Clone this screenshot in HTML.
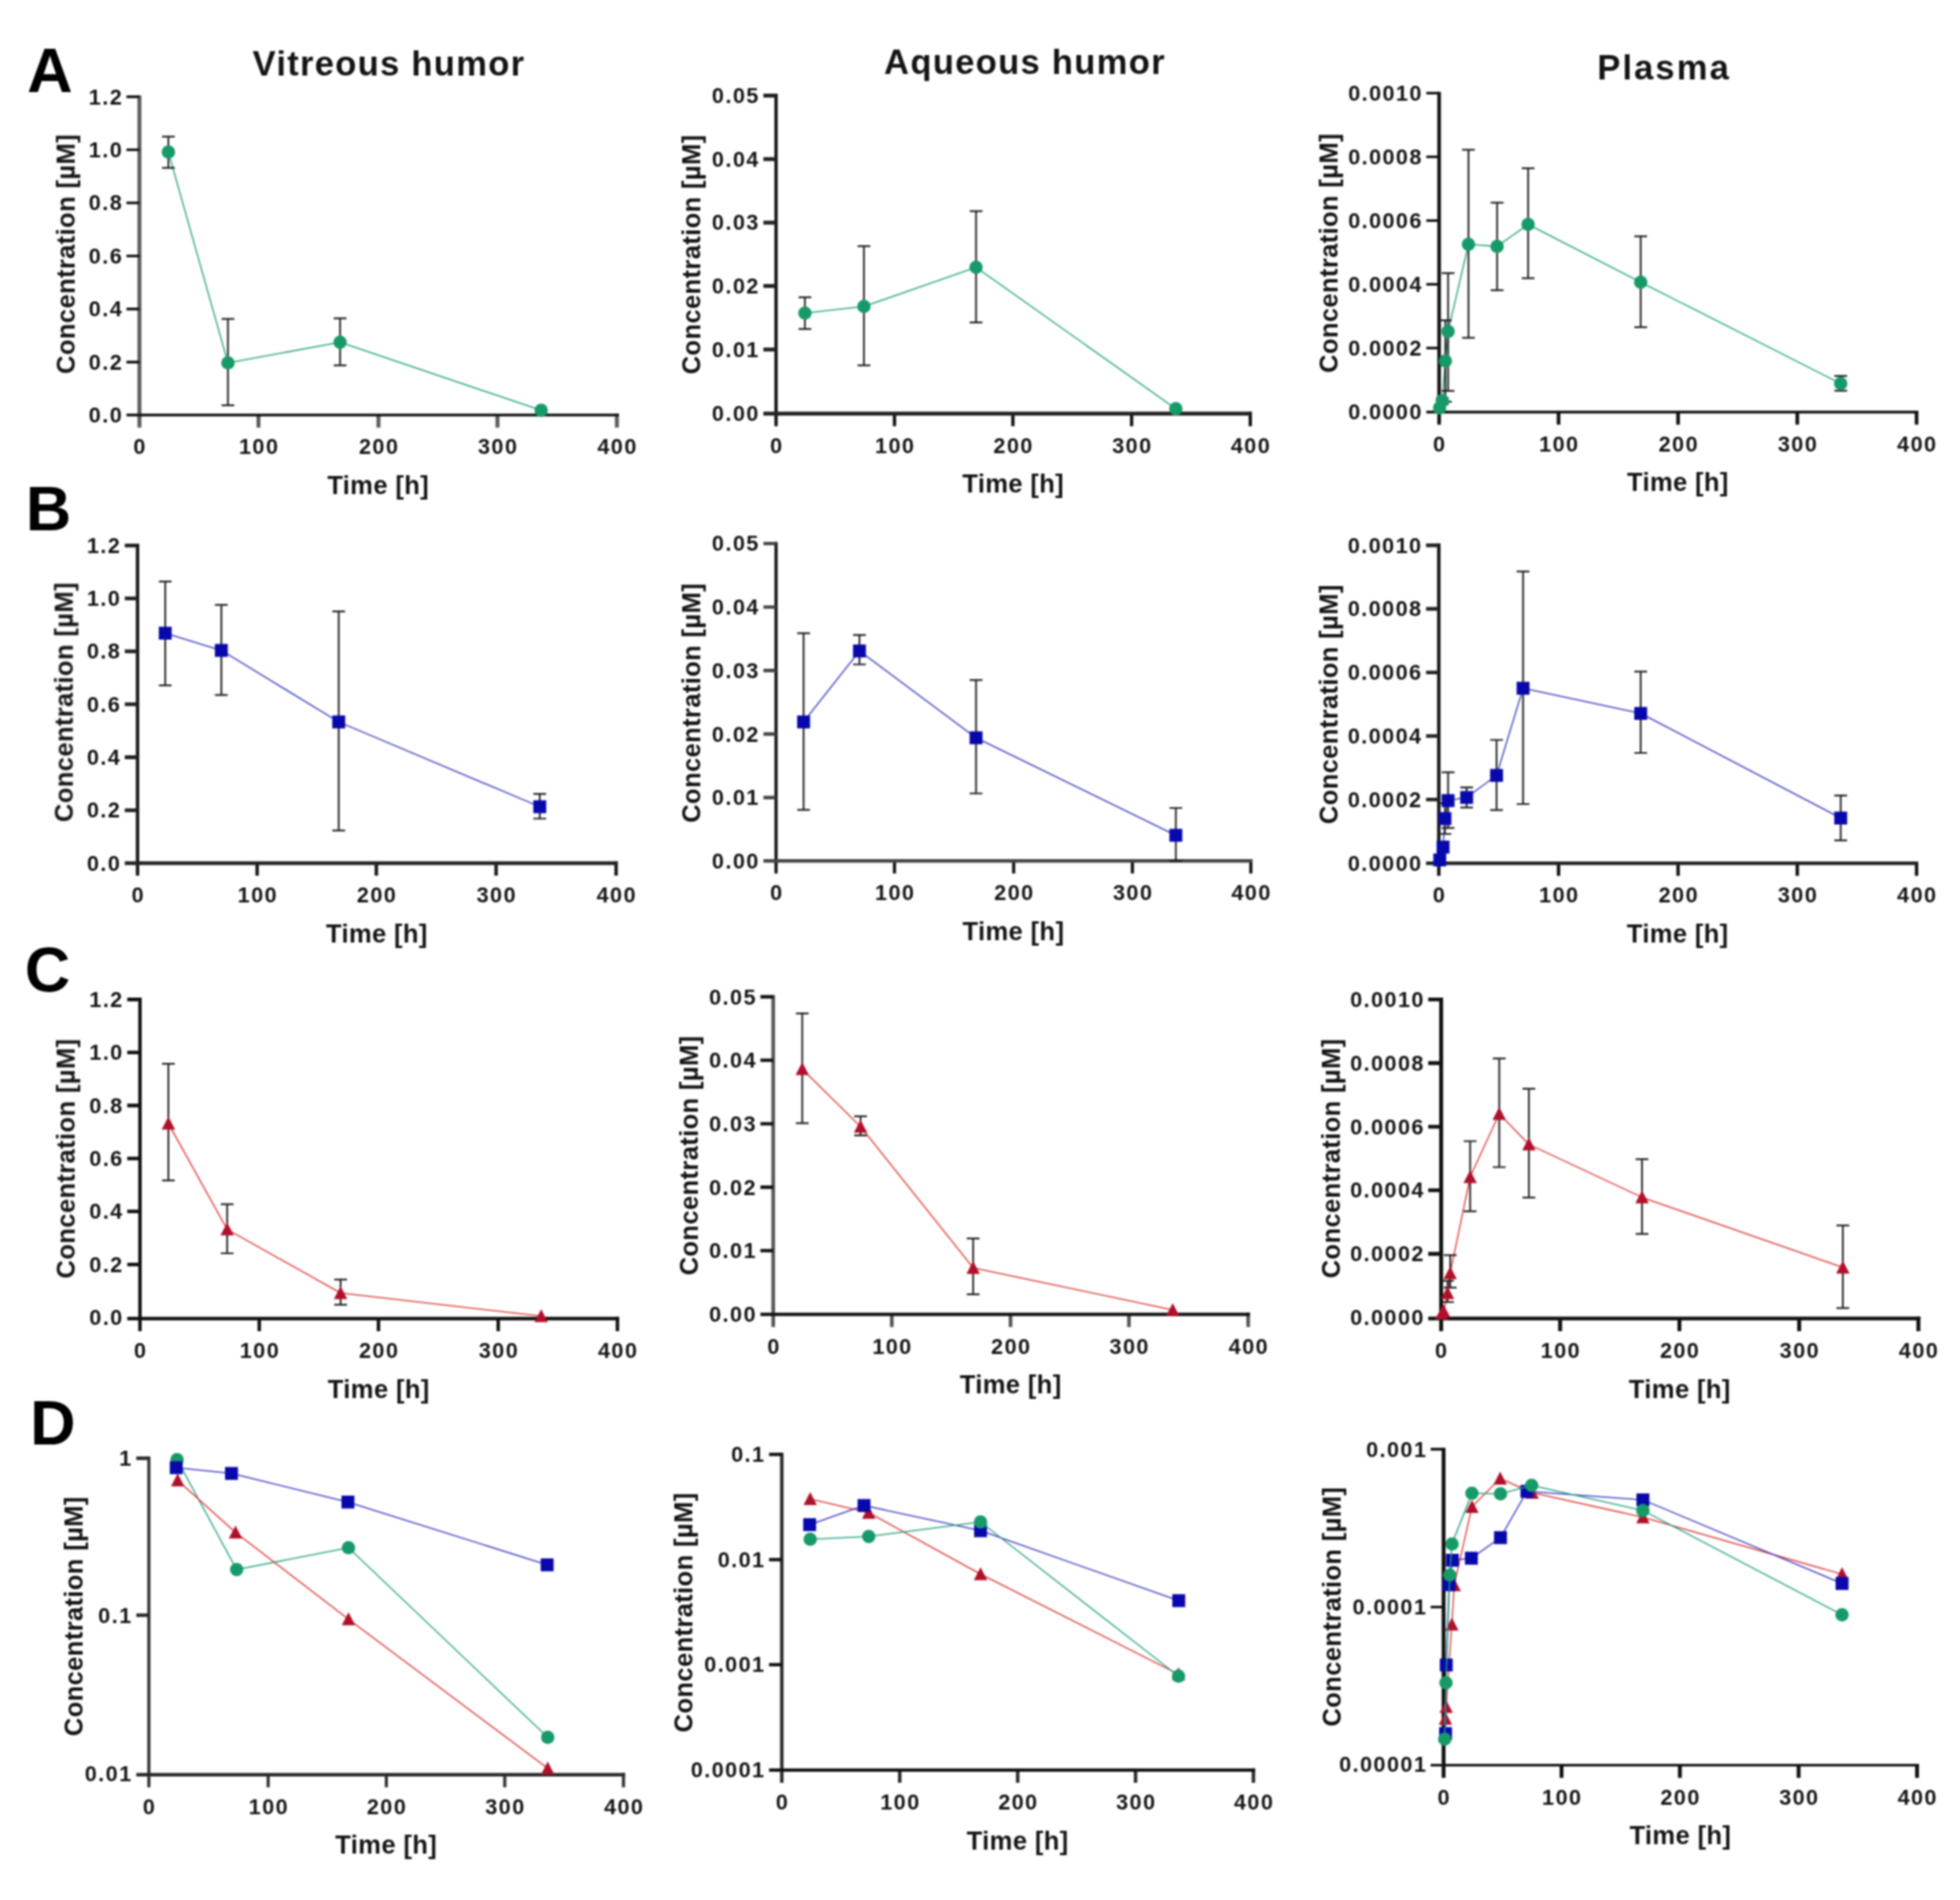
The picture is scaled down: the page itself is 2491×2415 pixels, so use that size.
<!DOCTYPE html>
<html lang="en"><head><meta charset="utf-8"><title>Concentration-time profiles</title>
<style>
html,body{margin:0;padding:0;background:#fff}
body{width:2491px;height:2415px;overflow:hidden}
svg{display:block}
text{font-family:"Liberation Sans",Arial,Helvetica,sans-serif;font-weight:bold;fill:#141414}
.tk{font-size:27.5px;letter-spacing:1.8px}
.lb{font-size:32.5px;letter-spacing:0.45px}
.tt{font-size:44px;letter-spacing:1.6px}
.lt{font-size:80px;fill:#000}
</style></head><body>
<svg width="2491" height="2415" viewBox="0 0 2491 2415">
<defs><filter id="soft" x="0" y="0" width="100%" height="100%" filterUnits="userSpaceOnUse" color-interpolation-filters="sRGB"><feGaussianBlur stdDeviation="0.85"/></filter></defs>
<rect width="2491" height="2415" fill="#fff"/>
<g filter="url(#soft)">
<g id="A1">
<path d="M177.2 121.3V543.5M328.5 527.5V543.5M481.0 527.5V543.5M632.2 527.5V543.5M784.0 525.8V543.5" stroke="#5c5c5c" stroke-width="5.0" fill="none"/>
<path d="M160.7 527.5H786.5M160.7 123.0H177.2M160.7 190.4H177.2M160.7 257.9H177.2M160.7 325.4H177.2M160.7 392.8H177.2M160.7 460.3H177.2" stroke="#111" stroke-width="3.4" fill="none"/>
<text class="tk" text-anchor="end" x="156.5" y="132.5">1.2</text>
<text class="tk" text-anchor="end" x="156.5" y="199.9">1.0</text>
<text class="tk" text-anchor="end" x="156.5" y="267.4">0.8</text>
<text class="tk" text-anchor="end" x="156.5" y="334.9">0.6</text>
<text class="tk" text-anchor="end" x="156.5" y="402.3">0.4</text>
<text class="tk" text-anchor="end" x="156.5" y="469.8">0.2</text>
<text class="tk" text-anchor="end" x="156.5" y="537.2">0.0</text>
<text class="tk" text-anchor="middle" x="178.1" y="577.3">0</text>
<text class="tk" text-anchor="middle" x="329.4" y="577.3">100</text>
<text class="tk" text-anchor="middle" x="481.9" y="577.3">200</text>
<text class="tk" text-anchor="middle" x="633.1" y="577.3">300</text>
<text class="tk" text-anchor="middle" x="784.9" y="577.3">400</text>
<text class="lb" text-anchor="middle" x="480.6" y="628.1">Time [h]</text>
<text class="lb" text-anchor="middle" transform="translate(95.0 322.8) rotate(-90)">Concentration [µM]</text>
<path d="M214.0 193.3L289.7 461.3L432.2 435.0L687.8 521.6" stroke="#22a07e" stroke-width="1.55" fill="none" stroke-linejoin="round"/>
<path d="M214.0 173.6V213.4M205.9 173.6h16.2M205.9 213.4h16.2" stroke="#1e1e1e" stroke-width="2.2" fill="none"/>
<path d="M289.7 405.4V515.2M281.6 405.4h16.2M281.6 515.2h16.2" stroke="#1e1e1e" stroke-width="2.2" fill="none"/>
<path d="M432.2 404.7V464.3M424.1 404.7h16.2M424.1 464.3h16.2" stroke="#1e1e1e" stroke-width="2.2" fill="none"/>
<circle cx="214.0" cy="193.3" r="8.5" fill="#169a68"/>
<circle cx="289.7" cy="461.3" r="8.5" fill="#169a68"/>
<circle cx="432.2" cy="435.0" r="8.5" fill="#169a68"/>
<circle cx="687.8" cy="521.6" r="8.5" fill="#169a68"/>
</g>
<g id="A2">
<path d="M986.3 119.0V541.7M1136.8 525.7V541.7M1287.3 525.7V541.7M1438.2 525.7V541.7M1589.0 523.2V541.7" stroke="#111" stroke-width="4.2" fill="none"/>
<path d="M970.2 525.7H1591.1M970.2 121.5H986.3M970.2 202.2H986.3M970.2 282.9H986.3M970.2 363.6H986.3M970.2 444.3H986.3" stroke="#222" stroke-width="5.0" fill="none"/>
<text class="tk" text-anchor="end" x="965.6" y="131.0">0.05</text>
<text class="tk" text-anchor="end" x="965.6" y="211.7">0.04</text>
<text class="tk" text-anchor="end" x="965.6" y="292.4">0.03</text>
<text class="tk" text-anchor="end" x="965.6" y="373.1">0.02</text>
<text class="tk" text-anchor="end" x="965.6" y="453.8">0.01</text>
<text class="tk" text-anchor="end" x="965.6" y="534.5">0.00</text>
<text class="tk" text-anchor="middle" x="987.2" y="575.5">0</text>
<text class="tk" text-anchor="middle" x="1137.7" y="575.5">100</text>
<text class="tk" text-anchor="middle" x="1288.2" y="575.5">200</text>
<text class="tk" text-anchor="middle" x="1439.1" y="575.5">300</text>
<text class="tk" text-anchor="middle" x="1589.9" y="575.5">400</text>
<text class="lb" text-anchor="middle" x="1287.7" y="626.3">Time [h]</text>
<text class="lb" text-anchor="middle" transform="translate(890.4 323.4) rotate(-90)">Concentration [µM]</text>
<path d="M1023.0 398.0L1098.0 389.6L1240.5 339.8L1494.4 519.6" stroke="#22a07e" stroke-width="1.55" fill="none" stroke-linejoin="round"/>
<path d="M1023.0 377.8V418.2M1014.9 377.8h16.2M1014.9 418.2h16.2" stroke="#1e1e1e" stroke-width="2.2" fill="none"/>
<path d="M1098.0 312.8V464.3M1089.9 312.8h16.2M1089.9 464.3h16.2" stroke="#1e1e1e" stroke-width="2.2" fill="none"/>
<path d="M1240.5 268.4V409.8M1232.4 268.4h16.2M1232.4 409.8h16.2" stroke="#1e1e1e" stroke-width="2.2" fill="none"/>
<circle cx="1023.0" cy="398.0" r="8.5" fill="#169a68"/>
<circle cx="1098.0" cy="389.6" r="8.5" fill="#169a68"/>
<circle cx="1240.5" cy="339.8" r="8.5" fill="#169a68"/>
<circle cx="1494.4" cy="519.6" r="8.5" fill="#169a68"/>
</g>
<g id="A3">
<path d="M1829.0 116.7V539.7M1980.8 523.7V539.7M2132.7 523.7V539.7M2284.2 523.7V539.7M2435.8 522.0V539.7" stroke="#111" stroke-width="4.6" fill="none"/>
<path d="M1812.7 523.7H2438.1M1812.7 118.4H1829.0M1812.7 199.4H1829.0M1812.7 280.4H1829.0M1812.7 361.4H1829.0M1812.7 442.4H1829.0" stroke="#111" stroke-width="3.4" fill="none"/>
<text class="tk" text-anchor="end" x="1808.3" y="127.9">0.0010</text>
<text class="tk" text-anchor="end" x="1808.3" y="208.9">0.0008</text>
<text class="tk" text-anchor="end" x="1808.3" y="289.9">0.0006</text>
<text class="tk" text-anchor="end" x="1808.3" y="370.9">0.0004</text>
<text class="tk" text-anchor="end" x="1808.3" y="451.9">0.0002</text>
<text class="tk" text-anchor="end" x="1808.3" y="532.9">0.0000</text>
<text class="tk" text-anchor="middle" x="1829.9" y="573.5">0</text>
<text class="tk" text-anchor="middle" x="1981.7" y="573.5">100</text>
<text class="tk" text-anchor="middle" x="2133.6" y="573.5">200</text>
<text class="tk" text-anchor="middle" x="2285.1" y="573.5">300</text>
<text class="tk" text-anchor="middle" x="2436.7" y="573.5">400</text>
<text class="lb" text-anchor="middle" x="2132.4" y="624.3">Time [h]</text>
<text class="lb" text-anchor="middle" transform="translate(1700.4 321.6) rotate(-90)">Concentration [µM]</text>
<path d="M1829.6 518.6L1833.0 509.2L1836.9 458.8L1840.4 421.3L1866.3 310.5L1902.7 313.2L1942.1 285.3L2085.2 358.7L2339.4 487.6" stroke="#22a07e" stroke-width="1.55" fill="none" stroke-linejoin="round"/>
<path d="M1833.0 506.0V514.0M1824.9 506.0h16.2M1824.9 514.0h16.2" stroke="#1e1e1e" stroke-width="2.2" fill="none"/>
<path d="M1836.9 407.1V510.7M1828.8 407.1h16.2M1828.8 510.7h16.2" stroke="#1e1e1e" stroke-width="2.2" fill="none"/>
<path d="M1840.4 347.2V496.8M1832.3 347.2h16.2M1832.3 496.8h16.2" stroke="#1e1e1e" stroke-width="2.2" fill="none"/>
<path d="M1866.3 190.3V429.4M1858.2 190.3h16.2M1858.2 429.4h16.2" stroke="#1e1e1e" stroke-width="2.2" fill="none"/>
<path d="M1902.7 257.6V368.8M1894.6 257.6h16.2M1894.6 368.8h16.2" stroke="#1e1e1e" stroke-width="2.2" fill="none"/>
<path d="M1942.1 213.9V353.6M1934.0 213.9h16.2M1934.0 353.6h16.2" stroke="#1e1e1e" stroke-width="2.2" fill="none"/>
<path d="M2085.2 300.4V415.9M2077.1 300.4h16.2M2077.1 415.9h16.2" stroke="#1e1e1e" stroke-width="2.2" fill="none"/>
<path d="M2339.4 477.9V496.7M2331.3 477.9h16.2M2331.3 496.7h16.2" stroke="#1e1e1e" stroke-width="2.2" fill="none"/>
<circle cx="1829.6" cy="518.6" r="8.5" fill="#169a68"/>
<circle cx="1833.0" cy="509.2" r="8.5" fill="#169a68"/>
<circle cx="1836.9" cy="458.8" r="8.5" fill="#169a68"/>
<circle cx="1840.4" cy="421.3" r="8.5" fill="#169a68"/>
<circle cx="1866.3" cy="310.5" r="8.5" fill="#169a68"/>
<circle cx="1902.7" cy="313.2" r="8.5" fill="#169a68"/>
<circle cx="1942.1" cy="285.3" r="8.5" fill="#169a68"/>
<circle cx="2085.2" cy="358.7" r="8.5" fill="#169a68"/>
<circle cx="2339.4" cy="487.6" r="8.5" fill="#169a68"/>
</g>
<g id="B1">
<path d="M174.8 690.9V1113.1M326.8 1097.1V1113.1M478.3 1097.1V1113.1M630.5 1097.1V1113.1M783.0 1094.7V1113.1" stroke="#1a1a1a" stroke-width="4.4" fill="none"/>
<path d="M158.6 1097.1H785.2M158.6 693.3H174.8M158.6 760.6H174.8M158.6 827.9H174.8M158.6 895.2H174.8M158.6 962.5H174.8M158.6 1029.8H174.8" stroke="#222" stroke-width="4.8" fill="none"/>
<text class="tk" text-anchor="end" x="154.1" y="702.8">1.2</text>
<text class="tk" text-anchor="end" x="154.1" y="770.1">1.0</text>
<text class="tk" text-anchor="end" x="154.1" y="837.4">0.8</text>
<text class="tk" text-anchor="end" x="154.1" y="904.7">0.6</text>
<text class="tk" text-anchor="end" x="154.1" y="972.0">0.4</text>
<text class="tk" text-anchor="end" x="154.1" y="1039.3">0.2</text>
<text class="tk" text-anchor="end" x="154.1" y="1106.6">0.0</text>
<text class="tk" text-anchor="middle" x="175.7" y="1146.9">0</text>
<text class="tk" text-anchor="middle" x="327.7" y="1146.9">100</text>
<text class="tk" text-anchor="middle" x="479.2" y="1146.9">200</text>
<text class="tk" text-anchor="middle" x="631.4" y="1146.9">300</text>
<text class="tk" text-anchor="middle" x="783.9" y="1146.9">400</text>
<text class="lb" text-anchor="middle" x="478.9" y="1197.7">Time [h]</text>
<text class="lb" text-anchor="middle" transform="translate(92.6 892.4) rotate(-90)">Concentration [µM]</text>
<path d="M210.0 804.8L281.3 826.7L430.5 917.6L686.0 1025.4" stroke="#3a3ac0" stroke-width="1.55" fill="none" stroke-linejoin="round"/>
<path d="M210.0 739.1V871.1M201.9 739.1h16.2M201.9 871.1h16.2" stroke="#1e1e1e" stroke-width="2.2" fill="none"/>
<path d="M281.3 768.8V883.3M273.2 768.8h16.2M273.2 883.3h16.2" stroke="#1e1e1e" stroke-width="2.2" fill="none"/>
<path d="M430.5 777.2V1055.7M422.4 777.2h16.2M422.4 1055.7h16.2" stroke="#1e1e1e" stroke-width="2.2" fill="none"/>
<path d="M686.0 1009.2V1040.5M677.9 1009.2h16.2M677.9 1040.5h16.2" stroke="#1e1e1e" stroke-width="2.2" fill="none"/>
<rect x="201.8" y="796.6" width="16.4" height="16.4" fill="#0808ac"/>
<rect x="273.1" y="818.5" width="16.4" height="16.4" fill="#0808ac"/>
<rect x="422.3" y="909.4" width="16.4" height="16.4" fill="#0808ac"/>
<rect x="677.8" y="1017.2" width="16.4" height="16.4" fill="#0808ac"/>
</g>
<g id="B2">
<path d="M986.3 688.7V1110.2M1136.8 1094.2V1110.2M1288.3 1094.2V1110.2M1439.2 1094.2V1110.2M1589.7 1092.0V1110.2" stroke="#111" stroke-width="4.0" fill="none"/>
<path d="M970.3 1094.2H1591.7M970.3 690.9H986.3M970.3 771.6H986.3M970.3 852.3H986.3M970.3 933.0H986.3M970.3 1013.7H986.3" stroke="#444" stroke-width="4.4" fill="none"/>
<text class="tk" text-anchor="end" x="965.6" y="700.4">0.05</text>
<text class="tk" text-anchor="end" x="965.6" y="781.1">0.04</text>
<text class="tk" text-anchor="end" x="965.6" y="861.8">0.03</text>
<text class="tk" text-anchor="end" x="965.6" y="942.5">0.02</text>
<text class="tk" text-anchor="end" x="965.6" y="1023.2">0.01</text>
<text class="tk" text-anchor="end" x="965.6" y="1103.9">0.00</text>
<text class="tk" text-anchor="middle" x="987.2" y="1144.0">0</text>
<text class="tk" text-anchor="middle" x="1137.7" y="1144.0">100</text>
<text class="tk" text-anchor="middle" x="1289.2" y="1144.0">200</text>
<text class="tk" text-anchor="middle" x="1440.1" y="1144.0">300</text>
<text class="tk" text-anchor="middle" x="1590.6" y="1144.0">400</text>
<text class="lb" text-anchor="middle" x="1288.0" y="1194.8">Time [h]</text>
<text class="lb" text-anchor="middle" transform="translate(890.4 893.4) rotate(-90)">Concentration [µM]</text>
<path d="M1021.3 917.6L1092.3 827.4L1240.5 937.8L1494.4 1061.7" stroke="#3a3ac0" stroke-width="1.55" fill="none" stroke-linejoin="round"/>
<path d="M1021.3 804.8V1029.4M1013.2 804.8h16.2M1013.2 1029.4h16.2" stroke="#1e1e1e" stroke-width="2.2" fill="none"/>
<path d="M1092.3 807.2V844.5M1084.2 807.2h16.2M1084.2 844.5h16.2" stroke="#1e1e1e" stroke-width="2.2" fill="none"/>
<path d="M1240.5 864.4V1008.5M1232.4 864.4h16.2M1232.4 1008.5h16.2" stroke="#1e1e1e" stroke-width="2.2" fill="none"/>
<path d="M1494.4 1027.0V1094.4M1486.3 1027.0h16.2M1486.3 1094.4h16.2" stroke="#1e1e1e" stroke-width="2.2" fill="none"/>
<rect x="1013.1" y="909.4" width="16.4" height="16.4" fill="#0808ac"/>
<rect x="1084.1" y="819.2" width="16.4" height="16.4" fill="#0808ac"/>
<rect x="1232.3" y="929.6" width="16.4" height="16.4" fill="#0808ac"/>
<rect x="1486.2" y="1053.5" width="16.4" height="16.4" fill="#0808ac"/>
</g>
<g id="B3">
<path d="M1828.6 690.8V1113.2M1980.8 1097.2V1113.2M2132.7 1097.2V1113.2M2284.2 1097.2V1113.2M2435.8 1094.9V1113.2" stroke="#111" stroke-width="4.3" fill="none"/>
<path d="M1812.4 1097.2H2438.0M1812.4 693.1H1828.6M1812.4 773.9H1828.6M1812.4 854.7H1828.6M1812.4 935.5H1828.6M1812.4 1016.3H1828.6" stroke="#222" stroke-width="4.6" fill="none"/>
<text class="tk" text-anchor="end" x="1807.9" y="702.6">0.0010</text>
<text class="tk" text-anchor="end" x="1807.9" y="783.4">0.0008</text>
<text class="tk" text-anchor="end" x="1807.9" y="864.2">0.0006</text>
<text class="tk" text-anchor="end" x="1807.9" y="945.0">0.0004</text>
<text class="tk" text-anchor="end" x="1807.9" y="1025.8">0.0002</text>
<text class="tk" text-anchor="end" x="1807.9" y="1106.6">0.0000</text>
<text class="tk" text-anchor="middle" x="1829.5" y="1147.0">0</text>
<text class="tk" text-anchor="middle" x="1981.7" y="1147.0">100</text>
<text class="tk" text-anchor="middle" x="2133.6" y="1147.0">200</text>
<text class="tk" text-anchor="middle" x="2285.1" y="1147.0">300</text>
<text class="tk" text-anchor="middle" x="2436.7" y="1147.0">400</text>
<text class="lb" text-anchor="middle" x="2132.2" y="1197.8">Time [h]</text>
<text class="lb" text-anchor="middle" transform="translate(1700.4 895.1) rotate(-90)">Concentration [µM]</text>
<path d="M1829.8 1093.0L1834.0 1076.7L1836.4 1040.5L1840.4 1017.6L1864.0 1013.6L1902.0 985.6L1935.7 874.8L2085.2 906.8L2339.4 1039.8" stroke="#3a3ac0" stroke-width="1.55" fill="none" stroke-linejoin="round"/>
<path d="M1836.4 1021.0V1060.0M1828.3 1021.0h16.2M1828.3 1060.0h16.2" stroke="#1e1e1e" stroke-width="2.2" fill="none"/>
<path d="M1840.4 981.6V1052.3M1832.3 981.6h16.2M1832.3 1052.3h16.2" stroke="#1e1e1e" stroke-width="2.2" fill="none"/>
<path d="M1864.0 1000.8V1026.4M1855.9 1000.8h16.2M1855.9 1026.4h16.2" stroke="#1e1e1e" stroke-width="2.2" fill="none"/>
<path d="M1902.0 940.5V1029.7M1893.9 940.5h16.2M1893.9 1029.7h16.2" stroke="#1e1e1e" stroke-width="2.2" fill="none"/>
<path d="M1935.7 726.3V1022.0M1927.6 726.3h16.2M1927.6 1022.0h16.2" stroke="#1e1e1e" stroke-width="2.2" fill="none"/>
<path d="M2085.2 853.6V957.0M2077.1 853.6h16.2M2077.1 957.0h16.2" stroke="#1e1e1e" stroke-width="2.2" fill="none"/>
<path d="M2339.4 1011.2V1068.1M2331.3 1011.2h16.2M2331.3 1068.1h16.2" stroke="#1e1e1e" stroke-width="2.2" fill="none"/>
<rect x="1821.6" y="1084.8" width="16.4" height="16.4" fill="#0808ac"/>
<rect x="1825.8" y="1068.5" width="16.4" height="16.4" fill="#0808ac"/>
<rect x="1828.2" y="1032.3" width="16.4" height="16.4" fill="#0808ac"/>
<rect x="1832.2" y="1009.4" width="16.4" height="16.4" fill="#0808ac"/>
<rect x="1855.8" y="1005.4" width="16.4" height="16.4" fill="#0808ac"/>
<rect x="1893.8" y="977.4" width="16.4" height="16.4" fill="#0808ac"/>
<rect x="1927.5" y="866.6" width="16.4" height="16.4" fill="#0808ac"/>
<rect x="2077.0" y="898.6" width="16.4" height="16.4" fill="#0808ac"/>
<rect x="2331.2" y="1031.6" width="16.4" height="16.4" fill="#0808ac"/>
</g>
<g id="C1">
<path d="M177.9 1268.1V1692.0M329.5 1676.0V1692.0M481.0 1676.0V1692.0M633.2 1676.0V1692.0M784.7 1673.7V1692.0" stroke="#111" stroke-width="4.4" fill="none"/>
<path d="M161.7 1676.0H786.9M161.7 1270.4H177.9M161.7 1337.8H177.9M161.7 1405.1H177.9M161.7 1472.5H177.9M161.7 1539.8H177.9M161.7 1607.2H177.9" stroke="#111" stroke-width="4.6" fill="none"/>
<text class="tk" text-anchor="end" x="157.2" y="1279.9">1.2</text>
<text class="tk" text-anchor="end" x="157.2" y="1347.2">1.0</text>
<text class="tk" text-anchor="end" x="157.2" y="1414.6">0.8</text>
<text class="tk" text-anchor="end" x="157.2" y="1482.0">0.6</text>
<text class="tk" text-anchor="end" x="157.2" y="1549.3">0.4</text>
<text class="tk" text-anchor="end" x="157.2" y="1616.7">0.2</text>
<text class="tk" text-anchor="end" x="157.2" y="1684.0">0.0</text>
<text class="tk" text-anchor="middle" x="178.8" y="1725.8">0</text>
<text class="tk" text-anchor="middle" x="330.4" y="1725.8">100</text>
<text class="tk" text-anchor="middle" x="481.9" y="1725.8">200</text>
<text class="tk" text-anchor="middle" x="634.1" y="1725.8">300</text>
<text class="tk" text-anchor="middle" x="785.6" y="1725.8">400</text>
<text class="lb" text-anchor="middle" x="481.3" y="1776.6">Time [h]</text>
<text class="lb" text-anchor="middle" transform="translate(95.0 1472.6) rotate(-90)">Concentration [µM]</text>
<path d="M214.0 1428.0L288.7 1562.6L432.9 1643.5L687.8 1672.8" stroke="#dc3a36" stroke-width="1.55" fill="none" stroke-linejoin="round"/>
<path d="M214.0 1352.2V1500.3M205.9 1352.2h16.2M205.9 1500.3h16.2" stroke="#1e1e1e" stroke-width="2.2" fill="none"/>
<path d="M288.7 1530.7V1593.0M280.6 1530.7h16.2M280.6 1593.0h16.2" stroke="#1e1e1e" stroke-width="2.2" fill="none"/>
<path d="M432.9 1626.3V1658.3M424.8 1626.3h16.2M424.8 1658.3h16.2" stroke="#1e1e1e" stroke-width="2.2" fill="none"/>
<path d="M214.0 1419.2L222.5 1435.7H205.5Z" fill="#b0102a"/>
<path d="M288.7 1553.8L297.2 1570.3H280.2Z" fill="#b0102a"/>
<path d="M432.9 1634.7L441.4 1651.2H424.4Z" fill="#b0102a"/>
<path d="M687.8 1664.0L696.3 1680.5H679.3Z" fill="#b0102a"/>
</g>
<g id="C2">
<path d="M982.7 1264.8V1686.7M1133.4 1670.7V1686.7M1284.3 1670.7V1686.7M1434.8 1670.7V1686.7M1586.3 1668.5V1686.7" stroke="#555" stroke-width="4.6" fill="none"/>
<path d="M966.4 1670.7H1588.6M966.4 1267.0H982.7M966.4 1347.7H982.7M966.4 1428.4H982.7M966.4 1509.0H982.7M966.4 1589.7H982.7" stroke="#111" stroke-width="4.3" fill="none"/>
<text class="tk" text-anchor="end" x="962.0" y="1276.5">0.05</text>
<text class="tk" text-anchor="end" x="962.0" y="1357.2">0.04</text>
<text class="tk" text-anchor="end" x="962.0" y="1437.9">0.03</text>
<text class="tk" text-anchor="end" x="962.0" y="1518.5">0.02</text>
<text class="tk" text-anchor="end" x="962.0" y="1599.2">0.01</text>
<text class="tk" text-anchor="end" x="962.0" y="1679.9">0.00</text>
<text class="tk" text-anchor="middle" x="983.8" y="1720.5">0</text>
<text class="tk" text-anchor="middle" x="1134.3" y="1720.5">100</text>
<text class="tk" text-anchor="middle" x="1285.2" y="1720.5">200</text>
<text class="tk" text-anchor="middle" x="1435.7" y="1720.5">300</text>
<text class="tk" text-anchor="middle" x="1587.2" y="1720.5">400</text>
<text class="lb" text-anchor="middle" x="1284.5" y="1771.3">Time [h]</text>
<text class="lb" text-anchor="middle" transform="translate(887.0 1468.7) rotate(-90)">Concentration [µM]</text>
<path d="M1019.6 1358.9L1093.7 1432.0L1236.8 1611.5L1490.4 1665.0" stroke="#dc3a36" stroke-width="1.55" fill="none" stroke-linejoin="round"/>
<path d="M1019.6 1288.2V1427.6M1011.5 1288.2h16.2M1011.5 1427.6h16.2" stroke="#1e1e1e" stroke-width="2.2" fill="none"/>
<path d="M1093.7 1418.9V1443.1M1085.6 1418.9h16.2M1085.6 1443.1h16.2" stroke="#1e1e1e" stroke-width="2.2" fill="none"/>
<path d="M1236.8 1574.1V1645.1M1228.7 1574.1h16.2M1228.7 1645.1h16.2" stroke="#1e1e1e" stroke-width="2.2" fill="none"/>
<path d="M1019.6 1350.1L1028.1 1366.6H1011.1Z" fill="#b0102a"/>
<path d="M1093.7 1423.2L1102.2 1439.7H1085.2Z" fill="#b0102a"/>
<path d="M1236.8 1602.7L1245.3 1619.2H1228.3Z" fill="#b0102a"/>
<path d="M1490.4 1656.2L1498.9 1672.7H1481.9Z" fill="#b0102a"/>
</g>
<g id="C3">
<path d="M1831.6 1268.0V1691.9M1982.8 1675.9V1691.9M2134.4 1675.9V1691.9M2286.6 1675.9V1691.9M2438.1 1673.5V1691.9" stroke="#111" stroke-width="5.0" fill="none"/>
<path d="M1815.1 1675.9H2440.6M1815.1 1270.4H1831.6M1815.1 1351.2H1831.6M1815.1 1432.1H1831.6M1815.1 1512.9H1831.6M1815.1 1593.8H1831.6" stroke="#111" stroke-width="4.9" fill="none"/>
<text class="tk" text-anchor="end" x="1810.9" y="1279.9">0.0010</text>
<text class="tk" text-anchor="end" x="1810.9" y="1360.7">0.0008</text>
<text class="tk" text-anchor="end" x="1810.9" y="1441.6">0.0006</text>
<text class="tk" text-anchor="end" x="1810.9" y="1522.4">0.0004</text>
<text class="tk" text-anchor="end" x="1810.9" y="1603.3">0.0002</text>
<text class="tk" text-anchor="end" x="1810.9" y="1684.1">0.0000</text>
<text class="tk" text-anchor="middle" x="1832.2" y="1725.7">0</text>
<text class="tk" text-anchor="middle" x="1983.7" y="1725.7">100</text>
<text class="tk" text-anchor="middle" x="2135.3" y="1725.7">200</text>
<text class="tk" text-anchor="middle" x="2287.5" y="1725.7">300</text>
<text class="tk" text-anchor="middle" x="2439.0" y="1725.7">400</text>
<text class="lb" text-anchor="middle" x="2134.8" y="1776.5">Time [h]</text>
<text class="lb" text-anchor="middle" transform="translate(1703.0 1472.4) rotate(-90)">Concentration [µM]</text>
<path d="M1832.3 1669.6L1834.8 1666.8L1839.7 1643.5L1843.1 1618.2L1868.4 1496.0L1905.4 1415.8L1943.1 1454.6L2086.9 1521.9L2342.1 1611.1" stroke="#dc3a36" stroke-width="1.55" fill="none" stroke-linejoin="round"/>
<path d="M1839.7 1628.0V1655.0M1831.6 1628.0h16.2M1831.6 1655.0h16.2" stroke="#1e1e1e" stroke-width="2.2" fill="none"/>
<path d="M1843.1 1595.3V1636.7M1835.0 1595.3h16.2M1835.0 1636.7h16.2" stroke="#1e1e1e" stroke-width="2.2" fill="none"/>
<path d="M1868.4 1450.5V1539.7M1860.3 1450.5h16.2M1860.3 1539.7h16.2" stroke="#1e1e1e" stroke-width="2.2" fill="none"/>
<path d="M1905.4 1345.4V1483.5M1897.3 1345.4h16.2M1897.3 1483.5h16.2" stroke="#1e1e1e" stroke-width="2.2" fill="none"/>
<path d="M1943.1 1383.8V1522.2M1935.0 1383.8h16.2M1935.0 1522.2h16.2" stroke="#1e1e1e" stroke-width="2.2" fill="none"/>
<path d="M2086.9 1473.4V1568.4M2078.8 1473.4h16.2M2078.8 1568.4h16.2" stroke="#1e1e1e" stroke-width="2.2" fill="none"/>
<path d="M2342.1 1557.6V1662.7M2334.0 1557.6h16.2M2334.0 1662.7h16.2" stroke="#1e1e1e" stroke-width="2.2" fill="none"/>
<path d="M1832.3 1660.8L1840.8 1677.3H1823.8Z" fill="#b0102a"/>
<path d="M1834.8 1658.0L1843.3 1674.5H1826.3Z" fill="#b0102a"/>
<path d="M1839.7 1634.7L1848.2 1651.2H1831.2Z" fill="#b0102a"/>
<path d="M1843.1 1609.4L1851.6 1625.9H1834.6Z" fill="#b0102a"/>
<path d="M1868.4 1487.2L1876.9 1503.7H1859.9Z" fill="#b0102a"/>
<path d="M1905.4 1407.0L1913.9 1423.5H1896.9Z" fill="#b0102a"/>
<path d="M1943.1 1445.8L1951.6 1462.3H1934.6Z" fill="#b0102a"/>
<path d="M2086.9 1513.1L2095.4 1529.6H2078.4Z" fill="#b0102a"/>
<path d="M2342.1 1602.3L2350.6 1618.8H2333.6Z" fill="#b0102a"/>
</g>
<g id="D1">
<path d="M189.2 1851.2V2271.8M340.8 2255.8V2271.8M491.0 2255.8V2271.8M641.5 2255.8V2271.8M792.4 2253.5V2271.8" stroke="#333" stroke-width="4.0" fill="none"/>
<path d="M173.2 2255.8H794.4M173.2 1853.5H189.2M173.2 2053.0H189.2" stroke="#2a2a2a" stroke-width="4.6" fill="none"/>
<text class="tk" text-anchor="end" x="168.5" y="1863.0">1</text>
<text class="tk" text-anchor="end" x="168.5" y="2062.5">0.1</text>
<text class="tk" text-anchor="end" x="168.5" y="2263.9">0.01</text>
<text class="tk" text-anchor="middle" x="190.1" y="2305.6">0</text>
<text class="tk" text-anchor="middle" x="341.7" y="2305.6">100</text>
<text class="tk" text-anchor="middle" x="491.9" y="2305.6">200</text>
<text class="tk" text-anchor="middle" x="642.4" y="2305.6">300</text>
<text class="tk" text-anchor="middle" x="793.3" y="2305.6">400</text>
<text class="lb" text-anchor="middle" x="490.8" y="2356.4">Time [h]</text>
<text class="lb" text-anchor="middle" transform="translate(105.4 2054.3) rotate(-90)">Concentration [µM]</text>
<path d="M225.0 1855.2L300.8 1995.1L442.9 1967.2L696.1 2208.3" stroke="#22a07e" stroke-width="1.55" fill="none" stroke-linejoin="round"/>
<circle cx="225.0" cy="1855.2" r="8.5" fill="#169a68"/>
<circle cx="300.8" cy="1995.1" r="8.5" fill="#169a68"/>
<circle cx="442.9" cy="1967.2" r="8.5" fill="#169a68"/>
<circle cx="696.1" cy="2208.3" r="8.5" fill="#169a68"/>
<path d="M224.0 1865.5L294.2 1872.8L442.2 1909.2L695.4 1989.0" stroke="#3a3ac0" stroke-width="1.55" fill="none" stroke-linejoin="round"/>
<rect x="215.8" y="1857.3" width="16.4" height="16.4" fill="#0808ac"/>
<rect x="286.0" y="1864.6" width="16.4" height="16.4" fill="#0808ac"/>
<rect x="434.0" y="1901.0" width="16.4" height="16.4" fill="#0808ac"/>
<rect x="687.2" y="1980.8" width="16.4" height="16.4" fill="#0808ac"/>
<path d="M225.8 1881.6L299.3 1947.8L442.9 2058.1L696.1 2247.7" stroke="#dc3a36" stroke-width="1.55" fill="none" stroke-linejoin="round"/>
<path d="M225.8 1872.8L234.3 1889.3H217.3Z" fill="#b0102a"/>
<path d="M299.3 1939.0L307.8 1955.5H290.8Z" fill="#b0102a"/>
<path d="M442.9 2049.3L451.4 2065.8H434.4Z" fill="#b0102a"/>
<path d="M696.1 2238.9L704.6 2255.4H687.6Z" fill="#b0102a"/>
</g>
<g id="D2">
<path d="M993.6 1846.5V2265.9M1143.5 2249.9V2265.9M1293.4 2249.9V2265.9M1443.2 2249.9V2265.9M1593.0 2247.8V2265.9" stroke="#2a2a2a" stroke-width="4.4" fill="none"/>
<path d="M977.4 2249.9H1595.2M977.4 1848.6H993.6M977.4 1982.4H993.6M977.4 2115.8H993.6" stroke="#111" stroke-width="4.2" fill="none"/>
<text class="tk" text-anchor="end" x="972.9" y="1858.1">0.1</text>
<text class="tk" text-anchor="end" x="972.9" y="1991.9">0.01</text>
<text class="tk" text-anchor="end" x="972.9" y="2125.3">0.001</text>
<text class="tk" text-anchor="end" x="972.9" y="2258.8">0.0001</text>
<text class="tk" text-anchor="middle" x="994.5" y="2299.7">0</text>
<text class="tk" text-anchor="middle" x="1144.4" y="2299.7">100</text>
<text class="tk" text-anchor="middle" x="1294.3" y="2299.7">200</text>
<text class="tk" text-anchor="middle" x="1444.1" y="2299.7">300</text>
<text class="tk" text-anchor="middle" x="1593.9" y="2299.7">400</text>
<text class="lb" text-anchor="middle" x="1293.3" y="2350.5">Time [h]</text>
<text class="lb" text-anchor="middle" transform="translate(880.4 2049.5) rotate(-90)">Concentration [µM]</text>
<path d="M1029.7 1905.2L1104.1 1922.7L1246.2 2000.8L1497.8 2128.1" stroke="#dc3a36" stroke-width="1.55" fill="none" stroke-linejoin="round"/>
<path d="M1029.7 1896.4L1038.2 1912.9H1021.2Z" fill="#b0102a"/>
<path d="M1104.1 1913.9L1112.6 1930.4H1095.6Z" fill="#b0102a"/>
<path d="M1246.2 1992.0L1254.7 2008.5H1237.7Z" fill="#b0102a"/>
<path d="M1497.8 2119.3L1506.3 2135.8H1489.3Z" fill="#b0102a"/>
<path d="M1029.0 1937.9L1098.1 1913.6L1246.2 1945.6L1498.1 2034.5" stroke="#3a3ac0" stroke-width="1.55" fill="none" stroke-linejoin="round"/>
<rect x="1020.8" y="1929.7" width="16.4" height="16.4" fill="#0808ac"/>
<rect x="1089.9" y="1905.4" width="16.4" height="16.4" fill="#0808ac"/>
<rect x="1238.0" y="1937.4" width="16.4" height="16.4" fill="#0808ac"/>
<rect x="1489.9" y="2026.3" width="16.4" height="16.4" fill="#0808ac"/>
<path d="M1029.7 1956.4L1104.1 1953.0L1246.2 1934.5L1497.8 2130.5" stroke="#22a07e" stroke-width="1.55" fill="none" stroke-linejoin="round"/>
<circle cx="1029.7" cy="1956.4" r="8.5" fill="#169a68"/>
<circle cx="1104.1" cy="1953.0" r="8.5" fill="#169a68"/>
<circle cx="1246.2" cy="1934.5" r="8.5" fill="#169a68"/>
<circle cx="1497.8" cy="2130.5" r="8.5" fill="#169a68"/>
</g>
<g id="D3">
<path d="M1834.7 1840.3V2259.7M1984.6 2243.7V2259.7M2135.0 2243.7V2259.7M2285.9 2243.7V2259.7M2436.4 2242.0V2259.7" stroke="#111" stroke-width="4.9" fill="none"/>
<path d="M1818.2 2243.7H2438.8M1818.2 1842.0H1834.7M1818.2 2042.6H1834.7" stroke="#111" stroke-width="3.3" fill="none"/>
<text class="tk" text-anchor="end" x="1814.0" y="1851.5">0.001</text>
<text class="tk" text-anchor="end" x="1814.0" y="2052.1">0.0001</text>
<text class="tk" text-anchor="end" x="1814.0" y="2252.3">0.00001</text>
<text class="tk" text-anchor="middle" x="1835.6" y="2293.5">0</text>
<text class="tk" text-anchor="middle" x="1985.5" y="2293.5">100</text>
<text class="tk" text-anchor="middle" x="2135.9" y="2293.5">200</text>
<text class="tk" text-anchor="middle" x="2286.8" y="2293.5">300</text>
<text class="tk" text-anchor="middle" x="2437.3" y="2293.5">400</text>
<text class="lb" text-anchor="middle" x="2135.6" y="2344.3">Time [h]</text>
<text class="lb" text-anchor="middle" transform="translate(1703.6 2042.2) rotate(-90)">Concentration [µM]</text>
<path d="M1837.0 2184.6L1838.0 2169.5L1845.2 2064.8L1848.2 2014.8L1870.7 1915.3L1906.6 1879.3L1947.1 1897.2L2088.0 1928.5L2341.1 2000.9" stroke="#dc3a36" stroke-width="1.55" fill="none" stroke-linejoin="round"/>
<path d="M1837.0 2175.8L1845.5 2192.3H1828.5Z" fill="#b0102a"/>
<path d="M1838.0 2160.7L1846.5 2177.2H1829.5Z" fill="#b0102a"/>
<path d="M1845.2 2056.0L1853.7 2072.5H1836.7Z" fill="#b0102a"/>
<path d="M1848.2 2006.0L1856.7 2022.5H1839.7Z" fill="#b0102a"/>
<path d="M1870.7 1906.5L1879.2 1923.0H1862.2Z" fill="#b0102a"/>
<path d="M1906.6 1870.5L1915.1 1887.0H1898.1Z" fill="#b0102a"/>
<path d="M1947.1 1888.4L1955.6 1904.9H1938.6Z" fill="#b0102a"/>
<path d="M2088.0 1919.7L2096.5 1936.2H2079.5Z" fill="#b0102a"/>
<path d="M2341.1 1992.1L2349.6 2008.6H2332.6Z" fill="#b0102a"/>
<path d="M1837.2 2203.5L1838.1 2116.3L1841.7 2014.2L1845.8 1983.2L1870.0 1980.6L1907.0 1954.4L1940.6 1895.6L2088.0 1906.4L2341.1 2012.7" stroke="#3a3ac0" stroke-width="1.55" fill="none" stroke-linejoin="round"/>
<rect x="1829.0" y="2195.3" width="16.4" height="16.4" fill="#0808ac"/>
<rect x="1829.9" y="2108.1" width="16.4" height="16.4" fill="#0808ac"/>
<rect x="1833.5" y="2006.0" width="16.4" height="16.4" fill="#0808ac"/>
<rect x="1837.6" y="1975.0" width="16.4" height="16.4" fill="#0808ac"/>
<rect x="1861.8" y="1972.4" width="16.4" height="16.4" fill="#0808ac"/>
<rect x="1898.8" y="1946.2" width="16.4" height="16.4" fill="#0808ac"/>
<rect x="1932.4" y="1887.4" width="16.4" height="16.4" fill="#0808ac"/>
<rect x="2079.8" y="1898.2" width="16.4" height="16.4" fill="#0808ac"/>
<rect x="2332.9" y="2004.5" width="16.4" height="16.4" fill="#0808ac"/>
<path d="M1836.1 2210.5L1837.7 2138.9L1842.5 2002.0L1845.4 1962.4L1870.7 1897.9L1907.0 1898.8L1946.6 1887.9L2088.0 1919.9L2341.1 2052.4" stroke="#22a07e" stroke-width="1.55" fill="none" stroke-linejoin="round"/>
<circle cx="1836.1" cy="2210.5" r="8.5" fill="#169a68"/>
<circle cx="1837.7" cy="2138.9" r="8.5" fill="#169a68"/>
<circle cx="1842.5" cy="2002.0" r="8.5" fill="#169a68"/>
<circle cx="1845.4" cy="1962.4" r="8.5" fill="#169a68"/>
<circle cx="1870.7" cy="1897.9" r="8.5" fill="#169a68"/>
<circle cx="1907.0" cy="1898.8" r="8.5" fill="#169a68"/>
<circle cx="1946.6" cy="1887.9" r="8.5" fill="#169a68"/>
<circle cx="2088.0" cy="1919.9" r="8.5" fill="#169a68"/>
<circle cx="2341.1" cy="2052.4" r="8.5" fill="#169a68"/>
</g>
<text class="tt" x="321.0" y="95.5">Vitreous humor</text>
<text class="tt" x="1123.6" y="94.2">Aqueous humor</text>
<text class="tt" style="letter-spacing:2.6px" x="2030.0" y="101.2">Plasma</text>
<text class="lt" x="34.5" y="117.2">A</text>
<text class="lt" x="32.8" y="674.2">B</text>
<text class="lt" x="31.5" y="1260.0">C</text>
<text class="lt" x="38.3" y="1836.4">D</text>
</g>
</svg>
</body></html>
